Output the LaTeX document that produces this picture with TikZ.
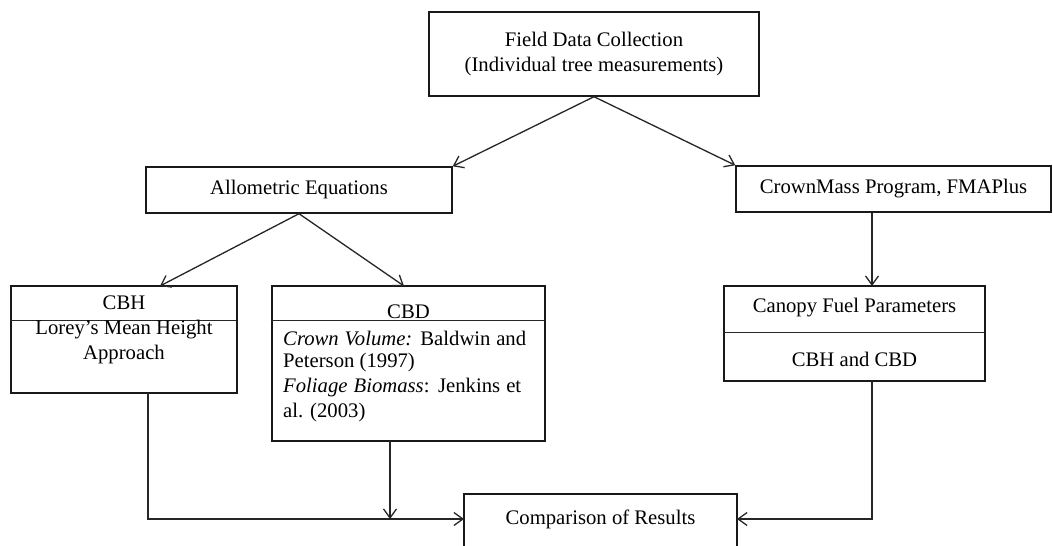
\documentclass[tikz,border=0pt]{standalone}
\usepackage{fontspec}
\setmainfont{Liberation Serif}
\usetikzlibrary{arrows.meta}
\begin{document}
\begin{tikzpicture}[x=1pt,y=-1pt,
  box/.style={draw=black!90, line width=1.4pt, rectangle, inner sep=0pt, fill=white,
    font=\fontsize{20.7}{25}\selectfont, align=center},
  txt/.style={inner sep=0pt, font=\fontsize{20.7}{25}\selectfont},
  arr/.style={draw=black!85, line width=1.3pt, -{Straight Barb[length=9pt,width=13pt,line width=1.3pt]}},
  divider/.style={draw=black!85, line width=1.2pt}]
\useasboundingbox (0,0) rectangle (1053,546);
\clip (0,0) rectangle (1053,546);
\fill[white] (0,0) rectangle (1053,546);

% boxes
\node[box, minimum width=330pt, minimum height=84pt] (field) at (594,54)
  {Field Data Collection\\(Individual tree measurements)};
\node[box, minimum width=306pt, minimum height=46pt] (allo) at (299,190) {Allometric Equations};
\node[box, minimum width=315pt, minimum height=46pt] (crown) at (893.5,189) {CrownMass Program, FMAPlus};
\node[box, minimum width=226pt, minimum height=107pt] (cbh) at (124,339.5) {};
\node[box, minimum width=273pt, minimum height=155pt] (cbd) at (408.5,363.5) {};
\node[box, minimum width=261pt, minimum height=95pt] (canopy) at (854.5,333.5) {};
\node[box, minimum width=273pt, minimum height=72pt] (comp) at (600.5,530) {};

% dividers
\draw[divider] (cbh.north west) ++(0,35) -- ++(226,0);
\draw[divider] (cbd.north west) ++(0,35) -- ++(273,0);
\draw[divider] (canopy.north west) ++(0,47) -- ++(261,0);

% texts
\node[txt] (cbhtitle) at (124,303) {CBH};
\node[txt, align=center] (cbhbody) at (124,342) {Lorey’s Mean Height\\Approach};
\node[txt] (cbdtitle) at (408.5,312) {CBD};
\node[txt, anchor=west] (cbd1) at (283,338) {\makebox[243pt][s]{\itshape Crown Volume:\upshape{} Baldwin and}};
\node[txt, anchor=west] (cbd2) at (283,363) {Peterson (1997)};
\node[txt, anchor=west] (cbd3) at (283,388) {\makebox[238pt][s]{\itshape Foliage Biomass\upshape: Jenkins et}};
\node[txt, anchor=west] (cbd4) at (283,413) {al. (2003)};
\node[txt] (cantitle) at (854.5,308) {Canopy Fuel Parameters};
\node[txt] (canbody) at (854.5,359) {CBH and CBD};
\node[txt] (comptext) at (600.5,519) {Comparison of Results};

% connector points
\coordinate (cbhin) at (160,286);
\coordinate (cbdin) at (404,286);
\coordinate (crownout) at (872,213);
\coordinate (canin) at (872,286);
\coordinate (cbhout) at (148,393);
\coordinate (cbhcorner) at (148,519);
\coordinate (compin) at (464,519);
\coordinate (cbdout) at (390,441);
\coordinate (cbdjoin) at (390,519);
\coordinate (canout) at (872,381);
\coordinate (cancorner) at (872,519);
\coordinate (compinr) at (737,519);

% connectors
\draw[arr] (field.south) -- (allo.north east);
\draw[arr] (field.south) -- (crown.north west);
\draw[arr] (allo.south) -- (cbhin);
\draw[arr] (allo.south) -- (cbdin);
\draw[arr] (crownout) -- (canin);
\draw[arr] (cbhout) -- (cbhcorner) -- (compin);
\draw[arr] (cbdout) -- (cbdjoin);
\draw[arr] (canout) -- (cancorner) -- (compinr);
\end{tikzpicture}
\end{document}
